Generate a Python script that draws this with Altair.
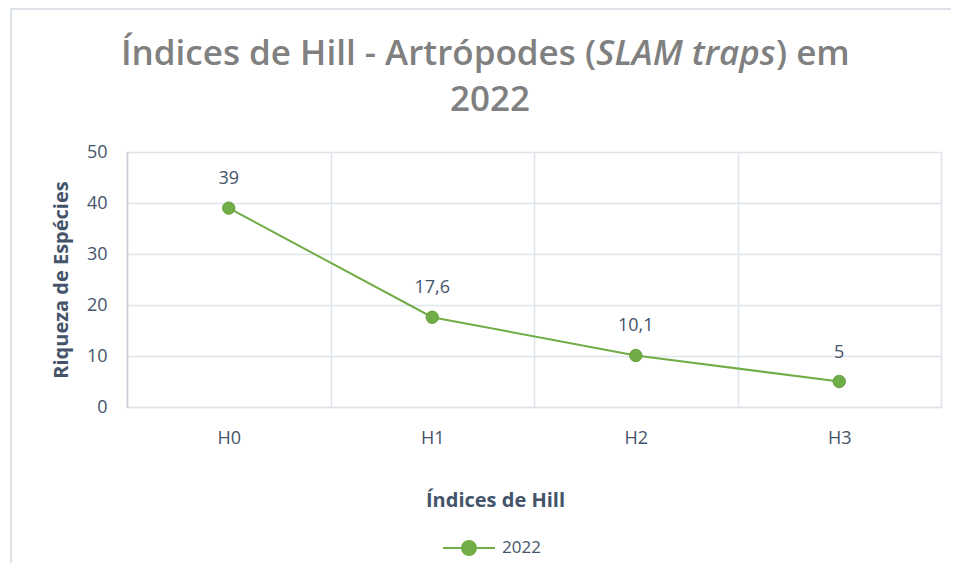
import altair as alt
import pandas as pd

categories = ["H0", "H1", "H2", "H3"]
values = [39, 17.6, 10.1, 5]
labels = ["39", "17,6", "10,1", "5"]
series = ["2022"] * 4

df = pd.DataFrame({"cat": categories, "val": values, "lab": labels, "serie": series})

FONT = "Open Sans"
TXT = "#44546a"
GRID = "#dfe3ea"
GREEN = "#70ad47"
TITLE_C = "#808080"
W, H = 814, 255

xenc = alt.X("cat:N", sort=categories, title="Índices de Hill",
             scale=alt.Scale(type="band", paddingInner=0, paddingOuter=0),
             axis=alt.Axis(tickBand="extent", grid=True, gridColor=GRID, gridWidth=1.5,
                           ticks=False, domainColor=GRID, domainWidth=1.5, labelAngle=0,
                           labelPadding=22, labelFontSize=18, labelColor=TXT, labelFont=FONT,
                           titleFontSize=20, titleFont=FONT, titleFontWeight="bold", titleColor=TXT,
                           titleX=368, titleY=93, titleBaseline="middle"))
yenc = alt.Y("val:Q", title="Riqueza de Espécies",
             scale=alt.Scale(domain=[0, 50], nice=False),
             axis=alt.Axis(values=[0, 10, 20, 30, 40, 50], grid=True, gridColor=GRID, gridWidth=1.5,
                           ticks=False, domainColor="#c5ccd6", domainWidth=1.5,
                           labelPadding=20, labelFontSize=18, labelColor=TXT, labelFont=FONT,
                           titleFontSize=20, titleFont=FONT, titleFontWeight="bold", titleColor=TXT,
                           titleX=-56, titleY=127.5))

base = alt.Chart(df)

line = base.mark_line(color=GREEN, strokeWidth=2).encode(
    x=xenc, y=yenc)

legend_path = "M-1,0L1,0M0.27,0A0.27,0.27,0,1,1,-0.27,0A0.27,0.27,0,1,1,0.27,0Z"
points = base.mark_circle(size=154, opacity=1, stroke="#66a040", strokeWidth=1).encode(
    x=alt.X("cat:N", sort=categories),
    y="val:Q",
    color=alt.Color("serie:N", scale=alt.Scale(domain=["2022"], range=[GREEN]),
                    legend=alt.Legend(title=None, orient="none", legendX=315, legendY=369,
                                      symbolType=legend_path, symbolSize=2704,
                                      symbolStrokeColor=GREEN, symbolStrokeWidth=2,
                                      labelFontSize=17, labelColor=TXT, labelFont=FONT,
                                      labelOffset=6)))

text = base.mark_text(baseline="middle", dy=-29, fontSize=18, color=TXT, font=FONT).encode(
    x=alt.X("cat:N", sort=categories), y="val:Q", text="lab:N")

one = alt.Data(values=[{"k": 1}])
TS = 35
TW = 600
t1 = alt.Chart(one).mark_text(align="right", baseline="alphabetic", fontSize=TS, fontWeight=TW,
                              font=FONT, color=TITLE_C).encode(
    x=alt.value(469), y=alt.value(-87), text=alt.value("Índices de Hill - Artrópodes ("))
t2 = alt.Chart(one).mark_text(align="center", baseline="alphabetic", fontSize=TS, fontWeight=TW,
                              fontStyle="italic", font=FONT, color=TITLE_C).encode(
    x=alt.value(559), y=alt.value(-87), text=alt.value("SLAM traps"))
t3 = alt.Chart(one).mark_text(align="left", baseline="alphabetic", fontSize=TS, fontWeight=TW,
                              font=FONT, color=TITLE_C).encode(
    x=alt.value(649), y=alt.value(-87), text=alt.value(") em"))
t4 = alt.Chart(one).mark_text(align="center", baseline="alphabetic", fontSize=TS, fontWeight=TW,
                              font=FONT, color=TITLE_C).encode(
    x=alt.value(363), y=alt.value(-41), text=alt.value("2022"))

FR = "#dde2e9"
frame_left = alt.Chart(one).mark_rule(stroke=FR, strokeWidth=2).encode(
    x=alt.value(-116), y=alt.value(-143), y2=alt.value(420))
frame_top = alt.Chart(one).mark_rule(stroke=FR, strokeWidth=2).encode(
    x=alt.value(-117), x2=alt.value(900), y=alt.value(-143))

chart = alt.layer(frame_left, frame_top, line, points, text, t1, t2, t3, t4).properties(
    width=W, height=H,
    autosize=alt.AutoSizeParams(type="none"),
    padding={"left": 119, "top": 144, "right": 10, "bottom": 156},
).configure_view(stroke=None).configure(background="white")

chart.save("out.html", embed_options={"renderer": "svg", "actions": False})
